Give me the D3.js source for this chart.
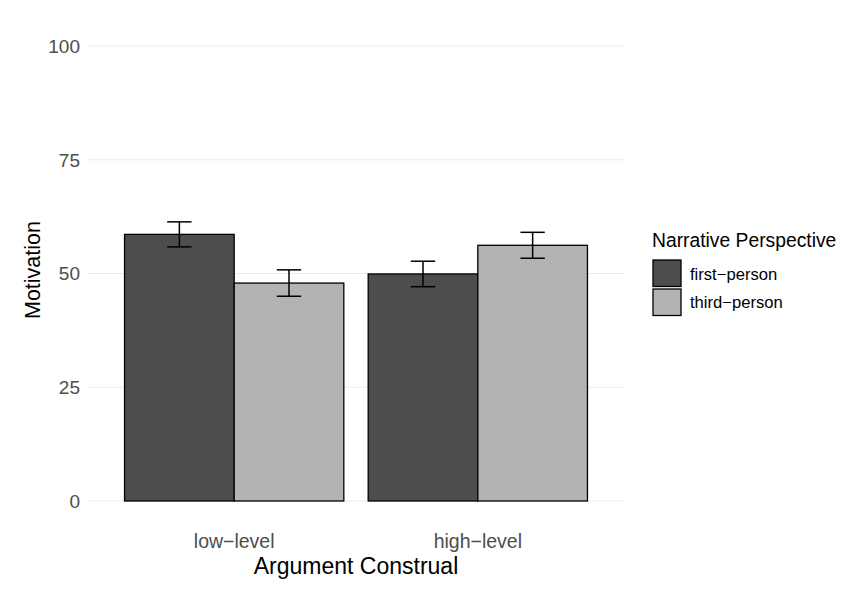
<!DOCTYPE html>
<html><head><meta charset="utf-8">
<script src="https://cdn.jsdelivr.net/npm/d3@7"></script>
<style>body{margin:0;background:#fff}svg{display:block;font-family:"Liberation Sans",Arial,Helvetica,sans-serif}</style>
</head><body>
<script>
const categories = ["low\u2212level", "high\u2212level"];
const groups = ["first\u2212person", "third\u2212person"];
const firstPerson = [58.6, 49.9];
const thirdPerson = [47.9, 56.2];
const firstSE = [2.75, 2.8];
const thirdSE = [2.9, 2.85];
const yTicks = [0, 25, 50, 75, 100];
const colors = ["#4d4d4d", "#b3b3b3"];

const W = 848, H = 589;
const svg = d3.select("body").append("svg").attr("width", W).attr("height", H);

// ggplot-like discrete positions: centres at 1,2 within [0.4, 2.6]
const xc = d3.scaleLinear().domain([0.4, 2.6]).range([88, 624]);
const y2 = d3.scaleLinear().domain([0, 100]).range([501, 46]);

const g = svg.append("g");
g.selectAll("line.grid").data(yTicks).join("line")
  .attr("x1", 88).attr("x2", 624)
  .attr("y1", d => y2(d)).attr("y2", d => y2(d))
  .attr("stroke", "#ebebeb").attr("stroke-width", 1.1);
g.selectAll("text.yt").data(yTicks).join("text")
  .attr("x", 80).attr("y", d => y2(d)).attr("dy", "0.36em")
  .attr("text-anchor", "end").attr("fill", "#4d4d4d").attr("font-size", 19).text(d => d);

const data = [];
categories.forEach((c, i) => {
  data.push({c, i, gi: 0, v: firstPerson[i], se: firstSE[i]});
  data.push({c, i, gi: 1, v: thirdPerson[i], se: thirdSE[i]});
});
const bw = 0.45;
g.selectAll("rect.bar").data(data).join("rect")
  .attr("x", d => xc(d.i + 1 - 0.45 + d.gi * bw))
  .attr("width", d => xc(bw) - xc(0))
  .attr("y", d => y2(d.v)).attr("height", d => y2(0) - y2(d.v))
  .attr("fill", d => colors[d.gi]).attr("stroke", "#000").attr("stroke-width", 1.3);

const eb = g.selectAll("g.eb").data(data).join("g");
const cx = d => xc(d.i + 1 - 0.45 + d.gi * bw + bw / 2);
const hw = xc(0.05) - xc(0);
eb.append("line").attr("x1", cx).attr("x2", cx).attr("y1", d => y2(d.v + d.se)).attr("y2", d => y2(d.v - d.se)).attr("stroke", "#000").attr("stroke-width", 1.5);
eb.append("line").attr("x1", d => cx(d) - hw).attr("x2", d => cx(d) + hw).attr("y1", d => y2(d.v + d.se)).attr("y2", d => y2(d.v + d.se)).attr("stroke", "#000").attr("stroke-width", 1.5);
eb.append("line").attr("x1", d => cx(d) - hw).attr("x2", d => cx(d) + hw).attr("y1", d => y2(d.v - d.se)).attr("y2", d => y2(d.v - d.se)).attr("stroke", "#000").attr("stroke-width", 1.5);

g.selectAll("text.xt").data(categories).join("text")
  .attr("x", (d, i) => xc(i + 1)).attr("y", 548)
  .attr("text-anchor", "middle").attr("fill", "#4d4d4d").attr("font-size", 19.5).text(d => d);

svg.append("text").attr("x", xc(1.5)).attr("y", 574).attr("text-anchor", "middle").attr("font-size", 23).attr("fill", "#000").text("Argument Construal");
svg.append("text").attr("transform", `translate(40,270) rotate(-90)`).attr("text-anchor", "middle").attr("font-size", 21.5).attr("fill", "#000").text("Motivation");

const lg = svg.append("g");
lg.append("text").attr("x", 652).attr("y", 247).attr("font-size", 19.3).attr("fill", "#000").text("Narrative Perspective");
groups.forEach((gname, k) => {
  lg.append("rect").attr("x", 653).attr("y", 260 + k * 29).attr("width", 28).attr("height", 26.5)
    .attr("fill", colors[k]).attr("stroke", "#000").attr("stroke-width", 1.3);
  lg.append("text").attr("x", 690).attr("y", 279.5 + k * 28).attr("font-size", 16.6).attr("fill", "#000").text(gname);
});
</script>
</body></html>
